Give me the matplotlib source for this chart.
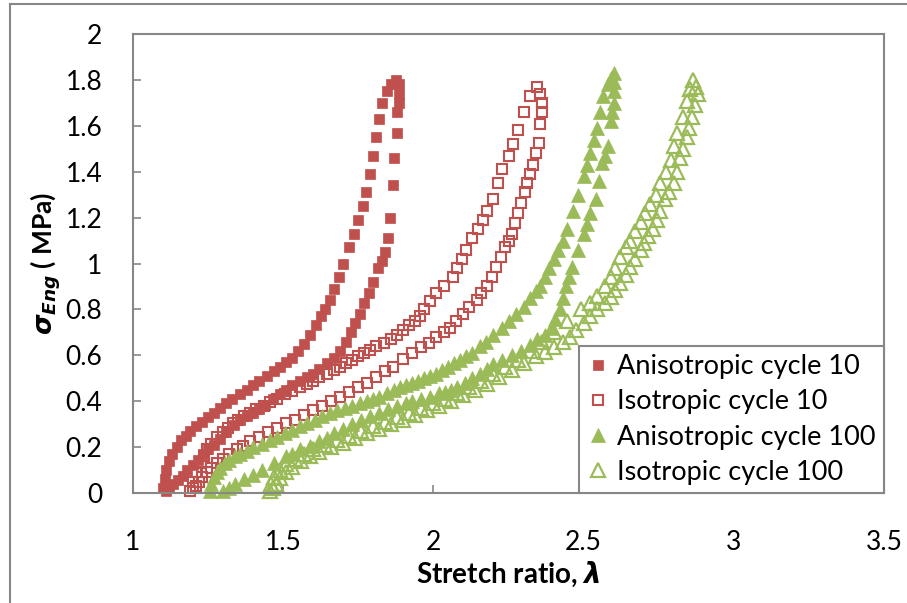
import matplotlib
matplotlib.use("Agg")
import matplotlib.pyplot as plt
from matplotlib.lines import Line2D

plt.rcParams['font.family'] = ['Lato', 'DejaVu Sans']
plt.rcParams['mathtext.fontset'] = 'custom'
plt.rcParams['mathtext.it'] = 'DejaVu Sans:italic:bold'
plt.rcParams['mathtext.rm'] = 'Lato:bold'
plt.rcParams['mathtext.bf'] = 'Lato:bold'

# ---------------- data (stretch ratio, stress MPa) ----------------
aniso10_x = [1.10, 1.105, 1.11, 1.12, 1.13, 1.145, 1.16, 1.175, 1.19, 1.21, 1.23, 1.25, 1.27, 1.29,
             1.31, 1.33, 1.355, 1.38, 1.40, 1.42, 1.445, 1.47, 1.49, 1.51, 1.53, 1.55, 1.57, 1.59,
             1.61, 1.625, 1.64, 1.655, 1.67, 1.685, 1.70, 1.72, 1.735, 1.75, 1.765, 1.776, 1.79,
             1.80, 1.81, 1.82, 1.83, 1.845, 1.86, 1.875,
             1.885, 1.885, 1.885, 1.88, 1.88, 1.87, 1.865, 1.856, 1.85, 1.84, 1.83, 1.816, 1.80,
             1.785, 1.77, 1.755, 1.74, 1.725, 1.71, 1.69, 1.67, 1.645, 1.62, 1.60, 1.58, 1.555,
             1.53, 1.51, 1.49, 1.465, 1.44, 1.42, 1.40, 1.38, 1.356, 1.335, 1.31, 1.29, 1.27, 1.25,
             1.233, 1.215, 1.20, 1.18, 1.165, 1.15, 1.133, 1.12, 1.11]
aniso10_y = [0.02, 0.06, 0.10, 0.14, 0.17, 0.20, 0.23, 0.25, 0.27, 0.29, 0.31, 0.33, 0.35, 0.37,
             0.39, 0.41, 0.43, 0.45, 0.47, 0.49, 0.51, 0.53, 0.55, 0.57, 0.59, 0.62, 0.65, 0.69,
             0.73, 0.77, 0.80, 0.84, 0.89, 0.94, 1.00, 1.07, 1.13, 1.19, 1.25, 1.31, 1.39,
             1.47, 1.55, 1.63, 1.70, 1.75, 1.78, 1.80,
             1.78, 1.74, 1.70, 1.66, 1.57, 1.46, 1.34, 1.20, 1.11, 1.05, 1.01, 0.98, 0.92,
             0.87, 0.83, 0.78, 0.74, 0.70, 0.66, 0.62, 0.59, 0.565, 0.54, 0.52, 0.505, 0.49,
             0.47, 0.45, 0.43, 0.41, 0.385, 0.365, 0.35, 0.335, 0.32, 0.295, 0.265, 0.235, 0.21, 0.19,
             0.17, 0.145, 0.12, 0.10, 0.075, 0.055, 0.04, 0.02, 0.01]

iso10_x = [1.19, 1.20, 1.21, 1.225, 1.235, 1.246, 1.26, 1.28, 1.30, 1.315, 1.333, 1.35, 1.37, 1.39,
           1.41, 1.435, 1.456, 1.48, 1.505, 1.53, 1.555, 1.58, 1.60, 1.62, 1.645, 1.67, 1.69, 1.71,
           1.73, 1.75, 1.77, 1.79, 1.81, 1.835, 1.86, 1.88, 1.90, 1.92, 1.94, 1.955, 1.97, 1.99,
           2.01, 2.035, 2.065, 2.08, 2.095, 2.11, 2.13, 2.15, 2.165, 2.18, 2.20, 2.215, 2.23, 2.25,
           2.265, 2.28, 2.30, 2.32, 2.345,
           2.355, 2.36, 2.36, 2.355, 2.35, 2.34, 2.33, 2.32, 2.31, 2.305, 2.29, 2.28, 2.27, 2.26,
           2.25, 2.24, 2.225, 2.21, 2.195, 2.18, 2.16, 2.145, 2.12, 2.10, 2.075, 2.055, 2.035, 2.01,
           1.985, 1.96, 1.93, 1.90, 1.866, 1.84, 1.81, 1.78, 1.75, 1.72, 1.69, 1.66, 1.63, 1.60,
           1.57, 1.54, 1.51, 1.48, 1.45, 1.42, 1.39, 1.365, 1.345, 1.32, 1.30, 1.28, 1.26, 1.245,
           1.23, 1.22, 1.21, 1.20]
iso10_y = [0.01, 0.05, 0.09, 0.13, 0.16, 0.19, 0.215, 0.245, 0.265, 0.285, 0.305, 0.32, 0.335, 0.35,
           0.365, 0.38, 0.395, 0.41, 0.43, 0.445, 0.46, 0.475, 0.49, 0.505, 0.52, 0.535, 0.55, 0.565,
           0.58, 0.595, 0.61, 0.625, 0.64, 0.655, 0.67, 0.69, 0.71, 0.73, 0.75, 0.77, 0.80, 0.835,
           0.87, 0.90, 0.94, 0.98, 1.02, 1.06, 1.11, 1.15, 1.19, 1.23, 1.28, 1.35, 1.41, 1.47,
           1.52, 1.58, 1.66, 1.73, 1.77,
           1.74, 1.70, 1.66, 1.61, 1.525, 1.48, 1.43, 1.39, 1.35, 1.31, 1.265, 1.22, 1.175, 1.13,
           1.10, 1.07, 1.03, 0.985, 0.94, 0.90, 0.87, 0.84, 0.81, 0.78, 0.75, 0.72, 0.70, 0.68,
           0.655, 0.635, 0.61, 0.585, 0.55, 0.53, 0.505, 0.48, 0.46, 0.44, 0.42, 0.40, 0.38, 0.36,
           0.34, 0.32, 0.305, 0.285, 0.265, 0.245, 0.225, 0.205, 0.19, 0.17, 0.15, 0.13, 0.11, 0.09,
           0.07, 0.05, 0.03, 0.02]

aniso100_x = [1.255, 1.26, 1.27, 1.28, 1.29, 1.305, 1.32, 1.34, 1.356, 1.38, 1.40, 1.43, 1.456, 1.48,
              1.505, 1.53, 1.556, 1.58, 1.605, 1.63, 1.656, 1.68, 1.705, 1.73, 1.756, 1.78, 1.80,
              1.82, 1.845, 1.87, 1.89, 1.91, 1.93, 1.95, 1.97, 1.99, 2.01, 2.03, 2.05, 2.07, 2.09,
              2.11, 2.13, 2.155, 2.175, 2.20, 2.23, 2.25, 2.275, 2.30, 2.32, 2.34, 2.355, 2.37,
              2.385, 2.40, 2.415, 2.43, 2.445, 2.465, 2.48, 2.50, 2.51, 2.52, 2.535, 2.545, 2.555,
              2.565, 2.58, 2.59, 2.60,
              2.60, 2.60, 2.60, 2.595, 2.59, 2.58, 2.57, 2.56, 2.55, 2.54, 2.52, 2.51, 2.50, 2.48,
              2.46, 2.45, 2.44, 2.43, 2.42, 2.405, 2.39, 2.37, 2.345, 2.32, 2.29, 2.26, 2.23, 2.20,
              2.18, 2.155, 2.13, 2.105, 2.08, 2.06, 2.04, 2.02, 1.99, 1.96, 1.93, 1.91, 1.88, 1.85,
              1.82, 1.79, 1.76, 1.73, 1.70, 1.67, 1.646, 1.62, 1.59, 1.556, 1.53, 1.51, 1.47, 1.43,
              1.40, 1.37, 1.34, 1.32, 1.30]
aniso100_y = [0.01, 0.04, 0.07, 0.09, 0.11, 0.13, 0.145, 0.16, 0.17, 0.185, 0.20, 0.215, 0.23, 0.245,
              0.26, 0.275, 0.29, 0.305, 0.32, 0.335, 0.35, 0.36, 0.37, 0.38, 0.39, 0.40, 0.41,
              0.42, 0.435, 0.45, 0.46, 0.47, 0.48, 0.49, 0.50, 0.51, 0.52, 0.535, 0.55, 0.565, 0.58,
              0.595, 0.61, 0.64, 0.66, 0.69, 0.72, 0.75, 0.78, 0.81, 0.85, 0.88, 0.90, 0.94,
              0.98, 1.02, 1.06, 1.10, 1.15, 1.23, 1.30, 1.38, 1.43, 1.48, 1.54, 1.59, 1.66,
              1.73, 1.78, 1.81, 1.83,
              1.79, 1.75, 1.70, 1.66, 1.62, 1.51, 1.47, 1.44, 1.36, 1.28, 1.22, 1.17, 1.13, 1.06,
              0.985, 0.94, 0.90, 0.85, 0.80, 0.76, 0.72, 0.69, 0.67, 0.645, 0.62, 0.60, 0.58, 0.56,
              0.54, 0.52, 0.50, 0.48, 0.46, 0.45, 0.44, 0.435, 0.42, 0.41, 0.40, 0.39, 0.38, 0.365,
              0.35, 0.335, 0.32, 0.30, 0.28, 0.26, 0.24, 0.225, 0.205, 0.19, 0.17, 0.16, 0.13, 0.10,
              0.08, 0.06, 0.04, 0.02, 0.01]

iso100_x = [1.455, 1.46, 1.47, 1.49, 1.51, 1.54, 1.57, 1.60, 1.64, 1.68, 1.72, 1.76, 1.80, 1.84,
            1.88, 1.92, 1.96, 2.00, 2.04, 2.08, 2.12, 2.16, 2.20, 2.24, 2.28, 2.32, 2.36, 2.40,
            2.445, 2.49, 2.52, 2.545, 2.57, 2.59, 2.605, 2.62, 2.64, 2.655, 2.67, 2.69, 2.705,
            2.72, 2.74, 2.755, 2.775, 2.79, 2.80, 2.81, 2.83, 2.845, 2.855, 2.865,
            2.875, 2.88, 2.87, 2.86, 2.85, 2.845, 2.83, 2.82, 2.81, 2.80, 2.785, 2.77, 2.755, 2.745,
            2.73, 2.715, 2.70, 2.69, 2.67, 2.655, 2.64, 2.62, 2.605, 2.59, 2.57, 2.545, 2.52, 2.50,
            2.475, 2.455, 2.43, 2.40, 2.37, 2.34, 2.30, 2.26, 2.22, 2.18, 2.14, 2.10, 2.06, 2.02,
            1.98, 1.94, 1.90, 1.86, 1.82, 1.78, 1.74, 1.70, 1.66, 1.62, 1.59, 1.56, 1.53, 1.51,
            1.49, 1.475, 1.465]
iso100_y = [0.01, 0.04, 0.07, 0.10, 0.125, 0.15, 0.17, 0.19, 0.21, 0.23, 0.25, 0.27, 0.29, 0.31,
            0.33, 0.35, 0.37, 0.39, 0.41, 0.435, 0.46, 0.49, 0.52, 0.55, 0.58, 0.62, 0.66, 0.70,
            0.75, 0.80, 0.83, 0.86, 0.90, 0.94, 0.98, 1.03, 1.07, 1.10, 1.14, 1.18, 1.22,
            1.26, 1.30, 1.35, 1.40, 1.45, 1.51, 1.57, 1.64, 1.71, 1.76, 1.80,
            1.77, 1.74, 1.69, 1.64, 1.59, 1.55, 1.50, 1.46, 1.40, 1.35, 1.31, 1.28, 1.23, 1.19,
            1.15, 1.12, 1.09, 1.06, 1.02, 0.985, 0.95, 0.915, 0.885, 0.855, 0.83, 0.80, 0.77, 0.74,
            0.71, 0.68, 0.66, 0.635, 0.615, 0.595, 0.565, 0.535, 0.505, 0.475, 0.45, 0.425, 0.40, 0.38,
            0.36, 0.34, 0.32, 0.30, 0.28, 0.26, 0.24, 0.22, 0.20, 0.18, 0.16, 0.14, 0.115, 0.09,
            0.065, 0.04, 0.02]

labels = ['Anisotropic cycle 10', 'Isotropic cycle 10', 'Anisotropic cycle 100', 'Isotropic cycle 100']
x_ticks = [1, 1.5, 2, 2.5, 3, 3.5]
x_ticklabels = ['1', '1.5', '2', '2.5', '3', '3.5']
y_ticks = [0, 0.2, 0.4, 0.6, 0.8, 1, 1.2, 1.4, 1.6, 1.8, 2]
y_ticklabels = ['0', '0.2', '0.4', '0.6', '0.8', '1', '1.2', '1.4', '1.6', '1.8', '2']

RED = '#C0504D'
GREEN = '#9BBB59'
GRAY = '#878787'

fig = plt.figure(figsize=(9.07, 6.03), dpi=100)
ax = fig.add_axes([133/907, (603-493)/603, (884-133)/907, (493-34)/603])

ax.plot(aniso10_x, aniso10_y, ls='none', marker='s', ms=7.5, mfc=RED, mec=RED, mew=0.5,
        label=labels[0], clip_on=False)
ax.plot(iso10_x, iso10_y, ls='none', marker='s', ms=7.5, mfc='none', mec=RED, mew=1.5,
        label=labels[1], clip_on=False)
ax.plot(aniso100_x, aniso100_y, ls='none', marker='^', ms=9.5, mfc=GREEN, mec=GREEN, mew=0.5,
        label=labels[2], clip_on=False)
ax.plot(iso100_x, iso100_y, ls='none', marker='^', ms=9.5, mfc='none', mec=GREEN, mew=1.6,
        label=labels[3], clip_on=False)

ax.set_xlim(1, 3.5)
ax.set_ylim(0, 2)
ax.set_xticks(x_ticks)
ax.set_xticklabels(x_ticklabels)
ax.set_yticks(y_ticks)
ax.set_yticklabels(y_ticklabels)
ax.tick_params(axis='both', direction='in', length=6, width=1.2, color=GRAY, labelsize=19)
ax.tick_params(axis='y', pad=22)
ax.tick_params(axis='x', pad=27)
ax.tick_params(top=False, right=False)
for s in ax.spines.values():
    s.set_color(GRAY)
    s.set_linewidth(1.5)

ax.set_xlabel(r'Stretch ratio, $\lambda$', fontsize=20, fontweight='bold', labelpad=3)
ax.set_ylabel(r'$\sigma_{Eng}$ ( MPa)', fontsize=19, fontweight='bold', labelpad=2)

leg = ax.legend(loc='lower right', bbox_to_anchor=(1.0, 0.0), borderaxespad=0, fontsize=19.5,
                frameon=True, fancybox=False, edgecolor=GRAY, framealpha=1, handlelength=0.8,
                handletextpad=0.3, labelspacing=0.38, borderpad=0.3)
leg.get_frame().set_linewidth(1.5)
leg.set_zorder(10)

# outer chart border
fig.add_artist(Line2D([10/907, 10/907], [0, 1 - 4/603], transform=fig.transFigure, color=GRAY, lw=1.5))
fig.add_artist(Line2D([10/907, 1], [1 - 4/603, 1 - 4/603], transform=fig.transFigure, color=GRAY, lw=1.5))

fig.savefig('out.png', dpi=100)
